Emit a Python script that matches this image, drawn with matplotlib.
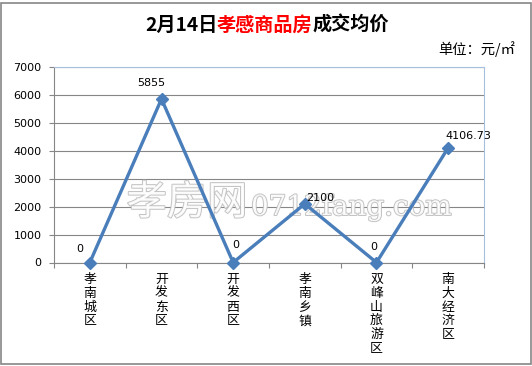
import matplotlib
matplotlib.use("Agg")
import matplotlib.pyplot as plt
import matplotlib.patheffects as pe
from matplotlib.patches import Rectangle

plt.rcParams['font.family'] = ['Noto Sans CJK SC', 'DejaVu Sans']

categories = ["孝南城区", "开发东区", "开发西区", "孝南乡镇", "双峰山旅游区", "南大经济区"]
values = [0, 5855, 0, 2100, 0, 4106.73]
value_labels = ["0", "5855", "0", "2100", "0", "4106.73"]
y_ticks = [0, 1000, 2000, 3000, 4000, 5000, 6000, 7000]
title_parts = [("2月14日", "black"), ("孝感商品房", "#FF0000"), ("成交均价", "black")]
unit_text = "单位：元/㎡"
watermark_cn = "孝房网"
watermark_en = "0712fang.com"
# label offsets in pixels (dx, dy) relative to each point
label_offsets = [(-10, 14), (-10, 16), (3, 17), (15, 6), (-3, 15), (20, 12)]

W, H = 532, 366
fig = plt.figure(figsize=(W / 100, H / 100), dpi=100)
fig.patch.set_facecolor("white")

# outer border
fig.patches.append(Rectangle((1 / W, 2.5 / H), 529.5 / W, 361 / H, transform=fig.transFigure,
                             fill=False, edgecolor="#868686", lw=1.2, zorder=10))

ax = fig.add_axes([54 / W, 1 - 262.5 / H, 430 / W, (262.5 - 67) / H])
n = len(categories)
xs = [i + 0.5 for i in range(n)]

ax.set_xlim(0, n)
ax.set_ylim(0, 7000)
ax.set_yticks(y_ticks)
ax.set_yticklabels([str(v) for v in y_ticks], fontsize=8, family="DejaVu Sans")
ax.tick_params(axis="y", direction="out", length=3.6, width=0.8, color="#868686", pad=5.5)

ax.set_xticks(range(n + 1))
ax.set_xticklabels([])
ax.tick_params(axis="x", which="major", direction="out", length=3.6, width=0.8, color="#868686")
ax.set_xticks(xs, minor=True)
ax.set_xticklabels(["\n".join(c) for c in categories], minor=True, fontsize=9.3, linespacing=1.08,
                   va="top")
ax.tick_params(axis="x", which="minor", length=0, pad=7.5)

ax.grid(axis="y", color="#868686", lw=0.8, zorder=0)
ax.set_axisbelow(True)
for s in ["left", "bottom"]:
    ax.spines[s].set_color("#868686")
    ax.spines[s].set_linewidth(0.8)
for s in ["top", "right"]:
    ax.spines[s].set_color("#A7BFDE")
    ax.spines[s].set_linewidth(0.8)

# watermark
wm_effect = [pe.withStroke(linewidth=1.4, foreground="#BDBDBD")]
ax.text((187 - 54) / 430, 1 - (203 - 67) / (262.5 - 67), watermark_cn,
        transform=ax.transAxes, fontsize=29, color="white", ha="center", va="center",
        alpha=0.9, path_effects=wm_effect, zorder=1.5)
ax.text((251 - 54) / 430, 1 - (215 - 67) / (262.5 - 67), watermark_en,
        transform=ax.transAxes, fontsize=20, color="white", ha="left", va="baseline",
        family="DejaVu Serif", alpha=0.9, path_effects=wm_effect, zorder=1.5)

ax.plot(xs, values, color="#4A7EBB", lw=2.4, marker="D", ms=6, zorder=3, clip_on=False)

for x, v, lab, (dx, dy) in zip(xs, values, value_labels, label_offsets):
    ax.annotate(lab, (x, v), xytext=(dx * 0.72, dy * 0.72), textcoords="offset points",
                ha="center", va="center", fontsize=8, family="DejaVu Sans", zorder=4)

# unit text
fig.text(515 / W, 1 - 49 / H, unit_text, fontsize=10.3, ha="right", va="center")

# title with coloured parts
fig.canvas.draw()
renderer = fig.canvas.get_renderer()
texts = []
for s, c in title_parts:
    t = fig.text(0, 1 - 31 / H, s, fontsize=13.8, fontweight="bold", color=c, va="baseline", ha="left")
    texts.append(t)
widths = [t.get_window_extent(renderer).width for t in texts]
total = sum(widths)
x0 = 267 - total / 2
for t, w in zip(texts, widths):
    t.set_x(x0 / W)
    x0 += w

fig.savefig("out.png", dpi=100)
